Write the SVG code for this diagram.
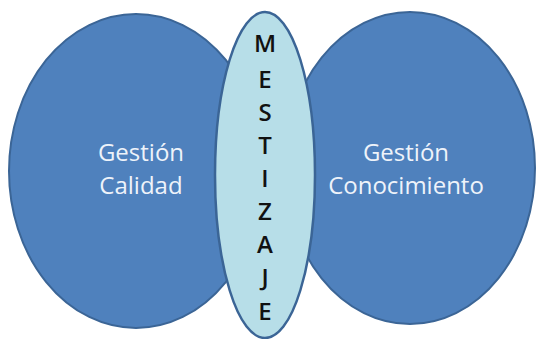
<svg xmlns="http://www.w3.org/2000/svg" width="537" height="339" viewBox="0 0 537 339">
<style>
.big{fill:#4F81BD;stroke:#3B6596;stroke-width:2}
.mid{fill:#B7DEE8;stroke:#3B6596;stroke-width:2.5}
.lbl{font-family:"Open Sans","Noto Sans",sans-serif;font-size:24px;fill:#EEF3FA;text-anchor:middle}
.let{font-family:"Open Sans","Noto Sans",sans-serif;font-size:24px;font-weight:600;fill:#111;text-anchor:middle}
</style>
<rect width="537" height="339" fill="#fff"/>
<g id="calidad">
<ellipse class="big" cx="136" cy="171" rx="127" ry="157"/>
<text class="lbl" x="141" y="161">Gestión</text>
<text class="lbl" x="141" y="194">Calidad</text>
</g>
<g id="conocimiento">
<ellipse class="big" cx="410" cy="168" rx="125" ry="156"/>
<text class="lbl" x="406" y="161">Gestión</text>
<text class="lbl" x="406" y="194">Conocimiento</text>
</g>
<g id="mestizaje">
<ellipse class="mid" cx="265" cy="175" rx="50" ry="163"/>
<text class="let" x="265" y="52">M</text>
<text class="let" x="265" y="88">E</text>
<text class="let" x="265" y="121">S</text>
<text class="let" x="265" y="154">T</text>
<text class="let" x="265" y="187">I</text>
<text class="let" x="265" y="220">Z</text>
<text class="let" x="265" y="253">A</text>
<text class="let" x="265" y="286">J</text>
<text class="let" x="265" y="320">E</text>
</g>
<g id="connectors"/>
</svg>
